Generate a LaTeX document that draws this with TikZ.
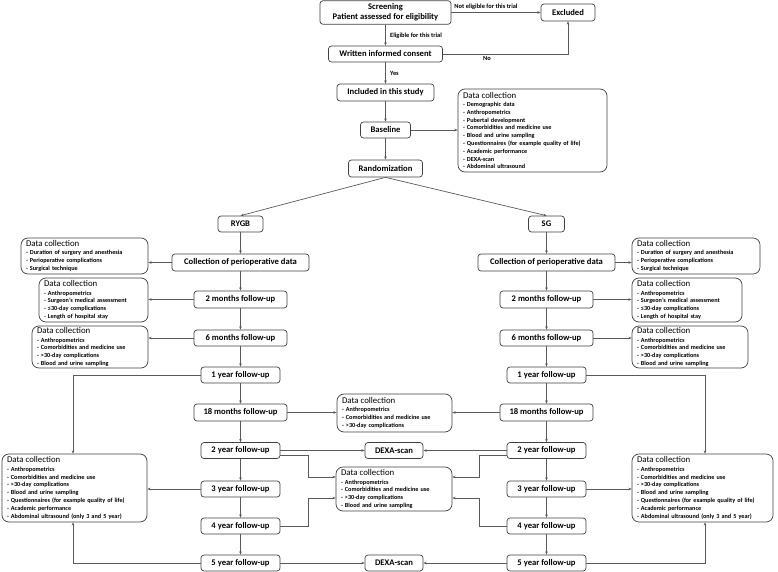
\documentclass[tikz,border=0pt]{standalone}
\usepackage{fontspec}
\setmainfont{Carlito}
\usetikzlibrary{arrows.meta}
\definecolor{boxc}{HTML}{404040}
\definecolor{linec}{HTML}{5A5A5A}
\newcommand{\dchead}{{\mdseries\fontsize{8.8}{9}\selectfont Data collection}\\[0.6pt]}
\tikzset{
 box/.style={draw=boxc, line width=0.7pt, rounded corners=3pt, fill=white, inner sep=0pt, align=center, font=\bfseries\fontsize{8.6}{10}\selectfont},
 dc/.style={draw=boxc, line width=0.7pt, rounded corners=7pt, fill=white, inner xsep=5pt, inner ysep=0pt, align=left, font=\bfseries\fontsize{6.2}{7.8}\selectfont},
 arr/.style={draw=linec, line width=0.7pt, -{Stealth[length=3.2pt,width=2.6pt]}},
 lbl/.style={font=\bfseries\fontsize{6.4}{7}\selectfont, inner sep=1pt},
}
\begin{document}
\begin{tikzpicture}[x=1pt,y=-1pt]
\useasboundingbox (0,0) rectangle (778,572);
% top part
\node[box, minimum width=131pt, minimum height=23.5pt] (screen) at (385.5,12.5) {Screening\\Patient assessed for eligibility};
\node[box, minimum width=54pt, minimum height=17pt] (excl) at (568,12.5) {Excluded};
\node[box, minimum width=114pt, minimum height=16pt] (consent) at (385.5,54) {Written informed consent};
\node[box, minimum width=97pt, minimum height=17pt] (incl) at (385.5,92.5) {Included in this study};
\node[box, minimum width=50pt, minimum height=16pt] (base) at (385.5,130) {Baseline};
\node[box, minimum width=74pt, minimum height=17pt] (rand) at (385.5,168.5) {Randomization};
\node[dc, text width=139pt, minimum height=83pt] (dcbase) at (532.5,130.5) {\dchead
- Demographic data\\
- Anthropometrics\\
- Pubertal development\\
- Comorbidities and medicine use\\
- Blood and urine sampling\\
- Questionnaires (for example quality of life)\\
- Academic performance\\
- DEXA-scan\\
- Abdominal ultrasound};
% columns
\node[box, minimum width=45pt, minimum height=16pt] (rygb) at (240.5,224) {RYGB};
\node[box, minimum width=36pt, minimum height=16pt] (sg) at (546.5,224) {SG};
\foreach \s/\x in {L/240.5,R/546.5}{
 \node[box, minimum width=137pt, minimum height=17pt] (peri\s) at (\x,262.5) {Collection of perioperative data};
 \node[box, minimum width=93pt, minimum height=17pt] (m2\s) at (\x,299.5) {2 months follow-up};
 \node[box, minimum width=93pt, minimum height=16pt] (m6\s) at (\x,338) {6 months follow-up};
 \node[box, minimum width=79pt, minimum height=16pt] (y1\s) at (\x,375) {1 year follow-up};
 \node[box, minimum width=93pt, minimum height=17pt] (mo18\s) at (\x,412.5) {18 months follow-up};
 \node[box, minimum width=79pt, minimum height=16pt] (y2\s) at (\x,450.5) {2 year follow-up};
 \node[box, minimum width=79pt, minimum height=16pt] (y3\s) at (\x,489) {3 year follow-up};
 \node[box, minimum width=79pt, minimum height=16pt] (y4\s) at (\x,526) {4 year follow-up};
 \node[box, minimum width=79pt, minimum height=16pt] (y5\s) at (\x,563) {5 year follow-up};
}
\node[dc, text width=117pt, minimum height=36pt] (dcL1) at (84.5,256) {\dchead
- Duration of surgery and anesthesia\\
- Perioperative complications\\
- Surgical technique};
\node[dc, text width=118pt, minimum height=36pt] (dcR1) at (696,256) {\dchead
- Duration of surgery and anesthesia\\
- Perioperative complications\\
- Surgical technique};
\node[dc, text width=99pt, minimum height=44pt] (dcL2) at (93.5,300) {\dchead
- Anthropometrics\\
- Surgeon’s medical assessment\\
- ≤30-day complications\\
- Length of hospital stay};
\node[dc, text width=100pt, minimum height=44pt] (dcR2) at (687,300) {\dchead
- Anthropometrics\\
- Surgeon’s medical assessment\\
- ≤30-day complications\\
- Length of hospital stay};
\node[dc, text width=106pt, minimum height=42pt] (dcL3) at (90,347) {\dchead
- Anthropometrics\\
- Comorbidities and medicine use\\
- >30-day complications\\
- Blood and urine sampling};
\node[dc, text width=106pt, minimum height=42pt] (dcR3) at (690,347) {\dchead
- Anthropometrics\\
- Comorbidities and medicine use\\
- >30-day complications\\
- Blood and urine sampling};
\node[dc, text width=105pt, minimum height=38pt] (dc18) at (394.5,413) {\dchead
- Anthropometrics\\
- Comorbidities and medicine use\\
- >30-day complications};
\node[box, minimum width=58pt, minimum height=16pt] (dexa1) at (394,450.5) {DEXA-scan};
\node[dc, text width=106pt, minimum height=44pt] (dcmid) at (394,489) {\dchead
- Anthropometrics\\
- Comorbidities and medicine use\\
- >30-day complications\\
- Blood and urine sampling};
\node[box, minimum width=58pt, minimum height=16pt] (dexa2) at (394,563) {DEXA-scan};
\node[dc, text width=135pt, minimum height=68pt] (dcBL) at (74.5,488) {\dchead
- Anthropometrics\\
- Comorbidities and medicine use\\
- >30-day complications\\
- Blood and urine sampling\\
- Questionnaires (for example quality of life)\\
- Academic performance\\
- Abdominal ultrasound (only 3 and 5 year)};
\node[dc, text width=131pt, minimum height=68pt] (dcBR) at (702.5,488) {\dchead
- Anthropometrics\\
- Comorbidities and medicine use\\
- >30-day complications\\
- Blood and urine sampling\\
- Questionnaires (for example quality of life)\\
- Academic performance\\
- Abdominal ultrasound (only 3 and 5 year)};
% connectors top
\draw[arr] (screen.east) -- (excl.west);
\node[lbl, anchor=south] at (486,11) {Not eligible for this trial};
\draw[arr] (screen.south) -- (consent.north);
\node[lbl, anchor=west] at (389,36) {Eligible for this trial};
\draw[arr] (consent.east) -| (excl.south);
\node[lbl, anchor=north] at (487,55) {No};
\draw[arr] (consent.south) -- (incl.north);
\node[lbl, anchor=west] at (389,73) {Yes};
\draw[arr] (incl) -- (base);
\draw[arr] (base) -- (rand);
\draw[arr] (base.east) -- (base.east -| dcbase.west);
\draw[arr] (rand.south) -- (rygb.north);
\draw[arr] (rand.south) -- (sg.north);
\draw[arr] (rygb) -- (periL);
\draw[arr] (sg) -- (periR);
\foreach \s in {L,R}{
 \draw[arr] (peri\s) -- (m2\s);
 \draw[arr] (m2\s) -- (m6\s);
 \draw[arr] (m6\s) -- (y1\s);
 \draw[arr] (y1\s) -- (mo18\s);
 \draw[arr] (mo18\s) -- (y2\s);
 \draw[arr] (y2\s) -- (y3\s);
 \draw[arr] (y3\s) -- (y4\s);
 \draw[arr] (y4\s) -- (y5\s);
}
% side boxes
\draw[arr] (periL.west) -- (periL.west -| dcL1.east);
\draw[arr] (m2L.west) -- (m2L.west -| dcL2.east);
\draw[arr] (m6L.west) -- (m6L.west -| dcL3.east);
\draw[arr] (periR.east) -- (periR.east -| dcR1.west);
\draw[arr] (m2R.east) -- (m2R.east -| dcR2.west);
\draw[arr] (m6R.east) -- (m6R.east -| dcR3.west);
\draw[arr] (mo18L.east) -- (mo18L.east -| dc18.west);
\draw[arr] (mo18R.west) -- (mo18R.west -| dc18.east);
\draw[arr] (y2L.east) -- (y2L.east -| dexa1.west);
\draw[arr] (y2R.west) -- (y2R.west -| dexa1.east);
\draw[arr] (y5L.east) -- (y5L.east -| dexa2.west);
\draw[arr] (y5R.west) -- (y5R.west -| dexa2.east);
\draw[arr] ([yshift=-5pt]y2L.east) -- ++(28,0) |- ([yshift=12pt]dcmid.west);
\draw[arr] (y4L.east) -- ++(28,0) |- ([yshift=-9pt]dcmid.west);
\draw[arr] ([yshift=-5pt]y2R.west) -- ++(-27,0) |- ([yshift=12pt]dcmid.east);
\draw[arr] (y4R.west) -- ++(-27,0) |- ([yshift=-9pt]dcmid.east);
% big boxes
\draw[arr] (y1L.west) -| ([xshift=-1.5pt]dcBL.north);
\draw[arr] (y3L.west) -- (y3L.west -| dcBL.east);
\draw[arr] (y5L.west) -| ([xshift=-1.5pt]dcBL.south);
\draw[arr] (y1R.east) -| ([xshift=2.5pt]dcBR.north);
\draw[arr] (y3R.east) -- (y3R.east -| dcBR.west);
\draw[arr] (y5R.east) -| ([xshift=2.5pt]dcBR.south);
\end{tikzpicture}
\end{document}
